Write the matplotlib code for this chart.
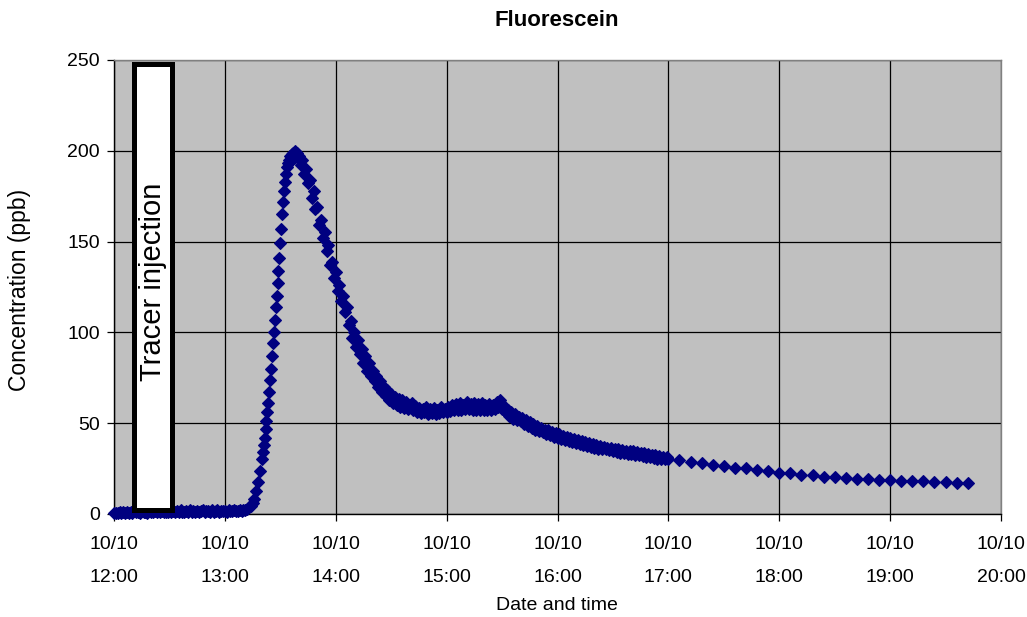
import numpy as np
import matplotlib.pyplot as plt
from matplotlib.patches import Rectangle

plt.rcParams['font.family'] = ['Liberation Sans', 'DejaVu Sans']

# sample times, minutes after 10/10 12:00
t_early = np.arange(0, 80)          # 12:00 - 13:19, every minute
t_rise = np.arange(80, 100, 0.5)    # 13:20 - 13:39.5, every 30 s
t_main = np.arange(100, 301)        # 13:40 - 17:00, every minute
t_late = np.arange(306, 463, 6)     # 17:06 - 19:42, every 6 min

# fluorescein concentration (ppb)
c_early = [
    0.3, 0.6, 0.4, 0.9, 0.5, 1.0, 0.7, 1.2, 0.6, 1.1,
    0.8, 1.4, 0.9, 1.3, 0.7, 1.5, 1.0, 1.2, 0.8, 1.6,
    1.1, 0.9, 1.7, 1.0, 1.4, 0.9, 1.8, 1.1, 1.3, 1.0,
    1.6, 1.2, 1.9, 1.0, 1.5, 1.1, 2.0, 1.3, 1.2, 1.7,
    1.0, 2.1, 1.3, 1.5, 1.1, 1.9, 1.2, 1.6, 2.2, 1.1,
    1.4, 1.8, 1.2, 2.0, 1.3, 1.5, 2.2, 1.2, 1.7, 1.4,
    1.9, 1.3, 2.1, 1.5, 1.6, 2.3, 1.4, 1.8, 2.0, 1.6,
    2.0, 2.4, 2.9, 3.6, 4.5, 6.0, 8.5, 12.5, 17.5, 23.5,
]
c_rise = [
    30, 34, 38, 42, 47, 51, 56, 61, 67, 74,
    80, 87, 94, 100, 107, 114, 120, 127, 134, 141,
    149, 157, 165, 172, 178, 183, 187, 191, 193, 195,
    194, 197, 195, 198, 199, 196, 200, 198, 199, 196,
]
c_main = [
    # 13:40
    197, 192, 195, 187, 190, 182, 184, 174, 178, 168,
    169, 159, 162, 152, 155, 145, 148, 137, 139, 130,
    133, 123, 126, 117, 120, 111, 114, 104, 106, 97,
    100, 92, 96, 88, 91, 83, 87, 79, 83, 76,
    79, 73, 76, 70, 73, 67, 70, 65, 68, 63,
    66, 61, 64.5, 60, 63.5, 59, 62.5, 58.5, 61.5, 58,
    # 14:40
    59, 61, 57, 59.5, 56, 58.5, 55.5, 58, 56, 59,
    55, 58, 55.5, 58.5, 55, 57.5, 55.5, 59, 56, 58,
    56, 59, 56.5, 60, 57, 60.5, 57, 61, 57.5, 60,
    58, 61.5, 58, 60.5, 57.5, 61, 57.5, 60.5, 57, 61,
    57.5, 60, 57, 60.5, 57.5, 60, 58, 61.5, 59, 62.5,
    58, 59.5, 56, 57.5, 54, 56, 52.5, 55, 51.5, 53.5,
    # 15:40
    51, 53, 49.5, 51.5, 48.5, 50.5, 47.5, 49.5, 46.5, 48.5,
    45.5, 47.5, 45, 46.5, 44, 46, 43.5, 45, 42.5, 44.5,
    42, 44, 41.5, 43, 40.5, 42.5, 40, 42, 39.5, 41.5,
    39, 40.5, 38.5, 40, 38, 39.5, 37.5, 39, 37, 38.5,
    36.5, 38, 36, 37.5, 35.5, 37, 35.5, 36.5, 35, 36.5,
    34.5, 36, 34, 35.5, 33.5, 35, 33.5, 34.5, 33, 34.5,
    # 16:40
    33, 34.5, 32.5, 34, 32.5, 33.5, 32, 33.5, 31.5, 33,
    31.5, 32.5, 31, 32.5, 30.5, 32, 30.5, 31.5, 30, 31.5, 30.5,
]
c_late = [
    29.5, 28.5, 28.2, 27.0, 26.6, 25.5, 25.2, 24.0, 23.8, 22.6,
    22.4, 21.5, 21.2, 20.4, 20.3, 19.6, 19.5, 19.0, 18.9, 18.5,
    18.4, 18.0, 18.0, 17.6, 17.6, 17.3, 17.2,
]

times = np.concatenate([t_early, t_rise, t_main, t_late])
conc = np.concatenate([c_early, c_rise, c_main, c_late])

hour_ticks = [0, 60, 120, 180, 240, 300, 360, 420, 480]
hour_labels = ['10/10\n12:00', '10/10\n13:00', '10/10\n14:00', '10/10\n15:00',
               '10/10\n16:00', '10/10\n17:00', '10/10\n18:00', '10/10\n19:00',
               '10/10\n20:00']
injection = (11, 31.5)   # minutes after 12:00

fig = plt.figure(figsize=(10.27, 6.17), dpi=100)
ax = fig.add_axes([0.111, 0.167, 0.8637, 0.7358])
ax.set_facecolor('#C0C0C0')

ax.plot(times, conc, linestyle='none', marker='D', ms=6.6, color='#000080',
        mec='#000080', mew=0.8, zorder=3, clip_on=False)

box = Rectangle((injection[0], 2.4), injection[1] - injection[0], 245.2,
                facecolor='white', edgecolor='black', linewidth=3.6, zorder=4)
ax.add_patch(box)
ax.text(sum(injection) / 2, 128, 'Tracer injection', rotation=90,
        ha='center', va='center', fontsize=21, zorder=5)

ax.set_xlim(0, 480)
ax.set_ylim(0, 250)
ax.set_xticks(hour_ticks)
ax.set_xticklabels(hour_labels, fontsize=14, linespacing=2.2)
ax.set_yticks([0, 50, 100, 150, 200, 250])
ax.tick_params(axis='y', labelsize=14, length=5, width=0.9, pad=5)
ax.tick_params(axis='x', length=5, width=0.9, pad=11)
ax.grid(True, color='black', linewidth=0.9)
ax.set_axisbelow(True)

for side in ['left', 'bottom']:
    ax.spines[side].set_color('black')
    ax.spines[side].set_linewidth(1.0)
for side in ['top', 'right']:
    ax.spines[side].set_color('#808080')
    ax.spines[side].set_linewidth(1.0)

fig.text(557 / 1027, 1 - 20 / 617, 'Fluorescein', ha='center', va='center',
         fontsize=16, fontweight='bold')
fig.text(557 / 1027, 1 - 606 / 617, 'Date and time', ha='center', va='center',
         fontsize=14)
fig.text(20 / 1027, 1 - 290 / 617, 'Concentration (ppb)', rotation=90,
         ha='center', va='center', fontsize=16.5)

fig.savefig('out.png', dpi=100)
